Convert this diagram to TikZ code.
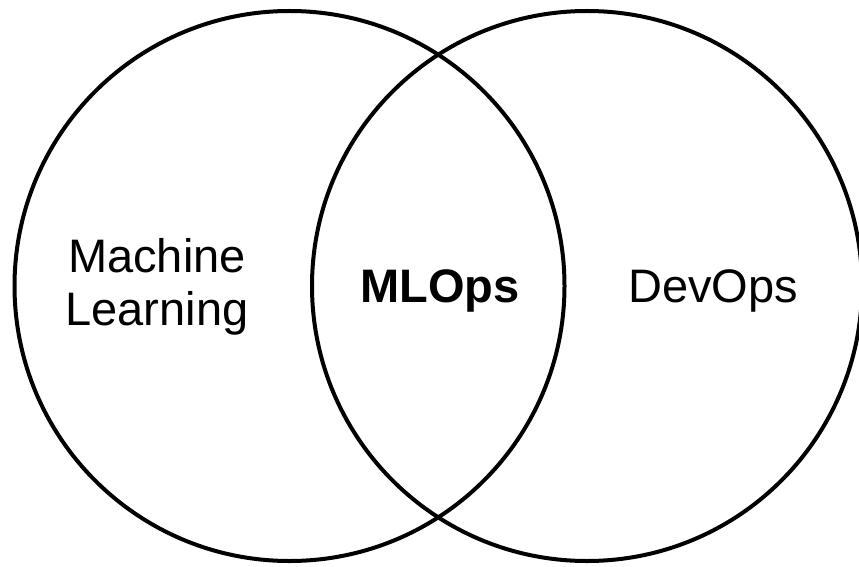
\documentclass[tikz,border=0pt]{standalone}
\usepackage{fontspec}
\setmainfont{Liberation Sans}
\begin{document}
\begin{tikzpicture}[x=1pt,y=1pt,
  venn/.style={circle,draw=black,line width=4pt,minimum size=550pt,inner sep=0pt},
  lbl/.style={anchor=base,inner sep=0pt,font=\fontsize{47}{53}\selectfont}]
\useasboundingbox (0,0) rectangle (859,566);
\node[venn] (ml) at (289.5,280) {};
\node[venn] (dev) at (587,280) {};
\node[lbl] (t1) at (157,294) {Machine};
\node[lbl] (t2) at (157,241) {Learning};
\node[lbl,font=\fontsize{47}{53}\selectfont\bfseries] (t3) at (440,264) {MLOps};
\node[lbl] (t4) at (713,264) {DevOps};
\end{tikzpicture}
\end{document}
